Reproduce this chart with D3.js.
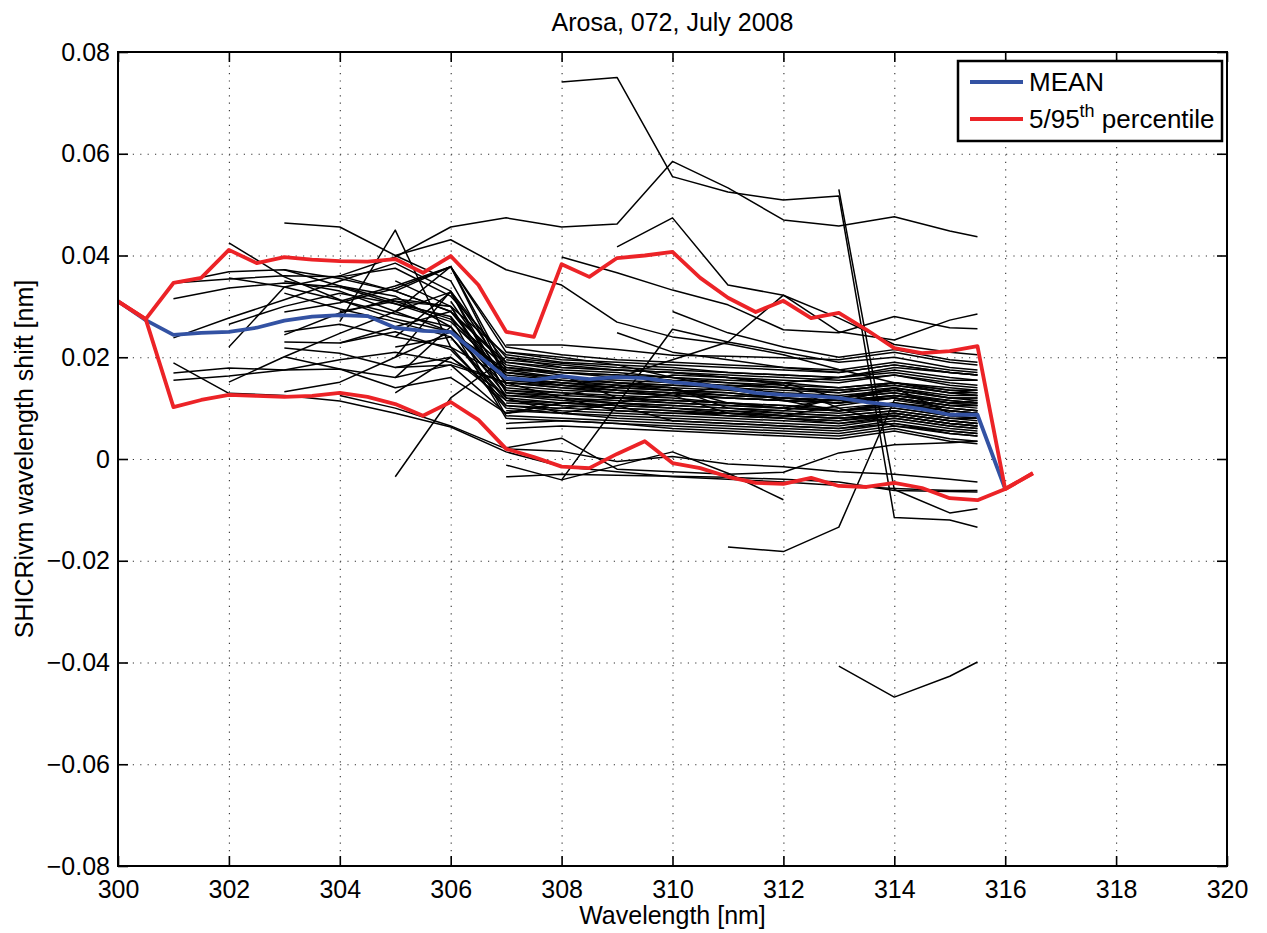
<!DOCTYPE html>
<html><head><meta charset="utf-8">
<script src="https://cdn.jsdelivr.net/npm/d3@7"></script>
<style>
body{margin:0;background:#fff}
svg text{font-family:"Liberation Sans",Arial,Helvetica,sans-serif;fill:#000}
</style>
</head><body>
<svg id="c" width="1267" height="933"></svg>
<script>
// ---------- data ----------
const xTickValues = [300,302,304,306,308,310,312,314,316,318,320];
const yTickValues = [-0.08,-0.06,-0.04,-0.02,0,0.02,0.04,0.06,0.08];
const titleText = "Arosa, 072, July 2008";
const xLabel = "Wavelength [nm]";
const yLabel = "SHICRivm wavelength shift [nm]";

// wavelengths of the statistics curves
const statWavelengths = [300,300.5,301,301.5,302,302.5,303,303.5,304,304.5,305,305.5,306,306.5,307,307.5,308,308.5,309,309.5,310,310.5,311,311.5,312,312.5,313,313.5,314,314.5,315,315.5,316,316.5];
const meanShift = [.0310,.0273,.0244,.0248,.0250,.0258,.0272,.0280,.0283,.0281,.0258,.0252,.0250,.0204,.0159,.0155,.0163,.0157,.0161,.0159,.0151,.0146,.0140,.0130,.0126,.0124,.0120,.0112,.0106,.0098,.0087,.0087,-.0059,null];
const p95Shift = [.0310,.0275,.0346,.0356,.0411,.0385,.0397,.0392,.0389,.0388,.0393,.0366,.0399,.0342,.0250,.0240,.0383,.0358,.0395,.0400,.0407,.0356,.0317,.0289,.0311,.0277,.0287,.0254,.0218,.0208,.0212,.0222,-.0059,-.0028];
const p5Shift  = [.0310,.0275,.0102,.0116,.0126,.0124,.0122,.0124,.0130,.0122,.0108,.0085,.0112,.0077,.0020,.0004,-.0015,-.0018,.0010,.0035,-.0008,-.0018,-.0035,-.0047,-.0049,-.0037,-.0053,-.0055,-.0047,-.0057,-.0077,-.0081,-.0059,-.0028];

// wavelengths of the individual scans
const scanWavelengths = [301,302,303,304,305,306,307,308,309,310,311,312,313,314,315,315.5];
const scanShifts = [
 [.0346,.0368,.0372,.0355,.0330,.0290,.0185,.0170,.0165,.0155,.0150,.0140,.0135,.0145,.0130,.0130],
 [.0346,.0354,.0360,.0358,.0375,.0320,.0200,.0188,.0180,.0175,.0170,.0165,.0160,.0170,.0155,.0155],
 [.0315,.0336,.0346,.0338,.0305,.0270,.0165,.0155,.0145,.0135,.0130,.0120,.0115,.0125,.0110,.0110],
 [.0238,.0277,.0313,.0350,.0385,.0330,.0190,.0175,.0170,.0160,.0155,.0150,.0140,.0150,.0135,.0135],
 [.0189,.0129,.0125,.0114,.0090,.0063,.0014,-.0015,-.0025,-.0035,-.0040,-.0045,-.0052,-.0058,-.0062,-.0062],
 [.0169,.0179,.0175,.0177,.0160,.0185,.0090,.0110,.0120,.0115,.0110,.0105,.0095,.0110,.0095,.0090],
 [.0155,.0163,.0175,.0195,.0210,.0190,.0150,.0120,.0095,.0090,.0085,.0080,.0075,.0090,.0075,.0070],
 [null,.0425,.0358,.0313,.0275,.0250,.0170,.0160,.0150,.0145,.0140,.0130,.0125,.0135,.0120,.0120],
 [null,.0265,.0300,.0326,.0305,.0280,.0150,.0140,.0130,.0125,.0120,.0115,.0110,.0120,.0105,.0105],
 [null,.0220,.0338,.0360,.0330,.0378,.0210,.0195,.0190,.0185,.0180,.0175,.0170,.0185,.0170,.0165],
 [null,.0151,.0201,.0247,.0290,.0328,.0130,.0120,.0110,.0105,.0100,.0095,.0120,.0140,.0090,.0085],
 [null,.0356,.0338,.0312,.0285,.0260,.0140,.0130,.0125,.0120,.0110,.0100,.0095,.0105,.0090,.0085],
 [null,null,.0464,.0456,.0400,.0350,.0160,.0145,.0135,.0130,.0120,.0115,.0110,.0125,.0110,.0105],
 [null,null,.0372,.0340,.0310,.0275,.0180,.0165,.0120,.0125,.0145,.0140,.0135,.0145,.0130,.0125],
 [null,null,.0326,.0295,.0270,.0240,.0120,.0110,.0105,.0100,.0095,.0090,.0085,.0095,.0080,.0075],
 [null,null,.0289,.0307,.0335,.0378,.0175,.0160,.0155,.0150,.0145,.0140,.0130,.0140,.0125,.0125],
 [null,null,.0250,.0265,.0240,.0220,.0100,.0090,.0085,.0080,.0075,.0070,.0065,.0080,.0065,.0060],
 [null,null,.0244,.0287,.0315,.0300,.0205,.0190,.0185,.0180,.0170,.0165,.0160,.0175,.0160,.0155],
 [null,null,.0230,.0228,.0260,.0290,.0155,.0145,.0140,.0165,.0160,.0150,.0120,.0130,.0115,.0110],
 [null,null,.0218,.0208,.0180,.0200,.0125,.0115,.0110,.0105,.0100,.0095,.0090,.0100,.0085,.0080],
 [null,null,.0201,.0177,.0140,.0160,.0090,.0110,.0105,.0075,.0070,.0065,.0060,.0075,.0060,.0055],
 [null,null,.0132,.0151,.0200,.0250,.0135,.0125,.0120,.0110,.0105,.0100,.0095,.0110,.0095,.0090],
 [null,null,null,.0270,.0450,.0220,.0160,.0150,.0140,.0135,.0125,.0120,.0115,.0120,.0100,.0095],
 [null,null,null,.0360,.0397,.0456,.0474,.0456,.0462,.0585,.0533,.0470,.0458,.0476,.0448,.0437],
 [null,null,null,null,-.0035,.0120,.0200,.0180,.0175,.0170,.0160,.0155,.0150,.0165,.0150,.0145],
 [null,null,null,null,.0290,.0378,.0220,.0205,.0195,.0190,.0185,.0180,.0175,.0190,.0175,.0170],
 [null,null,null,null,.0240,.0328,.0145,.0135,.0130,.0125,.0090,.0085,.0105,.0120,.0105,.0100],
 [null,null,null,null,.0130,.0200,.0115,.0105,.0100,.0095,.0090,.0085,.0080,.0090,.0075,.0070],
 [null,null,null,null,.0160,.0260,.0080,.0075,.0070,.0065,.0060,.0055,.0050,.0065,.0050,.0045],
 [null,null,null,null,.0400,.0431,.0372,.0342,.0269,.0240,.0226,.0205,.0176,.0150,.0130,.0125],
 [null,null,null,null,null,null,null,.0741,.0750,.0555,.0525,.0509,.0517,-.0115,-.0120,-.0134],
 [null,null,null,null,null,null,null,.0397,.0366,.0332,.0303,.0254,.0248,.0280,.0258,.0256],
 [null,null,null,null,null,null,null,null,.0417,.0474,.0342,.0322,.0250,.0234,.0273,.0285],
 [null,null,null,null,null,null,null,null,.0248,.0210,.0195,.0180,.0170,.0185,.0170,.0165],
 [null,null,null,null,null,null,null,-.0041,.0107,.0255,.0230,.0210,.0190,.0200,.0180,.0175],
 [null,null,null,null,null,null,-.0012,-.0041,-.0013,.0014,-.0028,-.0080,null,null,null,null],
 [null,null,null,null,null,null,.0022,.0041,-.0020,-.0025,-.0030,-.0026,.0012,.0028,.0032,.0035],
 [null,null,null,null,null,null,null,null,null,null,-.0173,-.0182,-.0134,.0116,.0100,.0095],
 [null,null,null,null,null,null,null,null,null,null,null,null,-.0407,-.0468,-.0427,-.0399],
 [null,null,null,null,null,null,null,null,null,null,null,null,.0530,-.0060,-.0106,-.0098],
 [null,null,null,null,null,null,.0224,.0224,.0215,.0204,.0202,.0199,.0195,.0210,.0190,.0185],
 [null,null,null,null,null,null,null,null,null,.0290,.0248,.0220,.0200,.0215,.0195,.0190],
 [null,null,null,null,null,null,.0180,.0170,.0160,.0195,.0230,.0322,.0277,.0225,.0210,.0205],
 [null,null,null,null,null,null,.0195,.0185,.0175,.0170,.0160,.0145,.0100,.0065,.0055,.0050],
 [null,null,null,null,null,null,.0095,.0090,.0080,.0075,.0070,.0065,.0060,.0070,.0050,.0045],
 [null,null,null,null,null,null,.0130,.0125,.0145,.0140,.0100,.0090,.0085,.0095,.0080,.0080],
 [null,null,null,null,null,null,.0170,.0155,.0150,.0140,.0110,.0100,.0120,.0130,.0110,.0115],
 [null,null,null,null,null,null,.0070,.0075,.0070,.0060,.0055,.0050,.0045,.0060,.0040,.0035],
 [null,null,null,null,.0180,.0185,.0150,.0140,.0135,.0125,.0120,.0115,.0110,.0120,.0105,.0105],
 [null,null,null,null,.0220,.0240,.0105,.0095,.0090,.0085,.0080,.0075,.0070,.0085,.0070,.0065],
 [null,null,null,.0125,.0100,.0065,.0020,.0015,-.0005,.0005,-.0010,-.0015,-.0025,-.0030,-.0040,-.0045],
 [null,null,null,null,null,null,-.0035,-.0030,-.0032,-.0034,-.0036,-.0040,-.0045,-.0062,-.0064,-.0065],
 [null,null,null,.0310,.0340,.0378,.0160,.0150,.0145,.0140,.0135,.0125,.0120,.0135,.0120,.0115],
 [null,null,null,.0290,.0310,.0300,.0120,.0090,.0110,.0100,.0095,.0085,.0080,.0090,.0075,.0070],
 [null,null,.0350,.0330,.0290,.0250,.0175,.0170,.0165,.0160,.0150,.0145,.0140,.0150,.0140,.0135],
 [null,null,null,null,.0350,.0300,.0135,.0130,.0120,.0115,.0110,.0105,.0100,.0110,.0100,.0095],
 [null,null,null,.0228,.0250,.0215,.0105,.0100,.0095,.0090,.0090,.0085,.0080,.0085,.0070,.0065],
 [null,null,null,null,.0330,.0290,.0190,.0180,.0175,.0170,.0165,.0160,.0155,.0165,.0145,.0140],
 [null,null,null,.0340,.0320,.0260,.0125,.0120,.0115,.0110,.0105,.0100,.0095,.0105,.0095,.0090],
 [null,null,null,null,null,.0280,.0085,.0080,.0075,.0070,.0065,.0060,.0055,.0070,.0055,.0050],
 [null,null,null,null,null,.0310,.0155,.0150,.0140,.0135,.0130,.0120,.0115,.0125,.0115,.0110],
 [null,null,null,null,null,.0240,.0115,.0110,.0105,.0100,.0090,.0080,.0075,.0085,.0070,.0065],
 [null,null,null,null,null,null,.0090,.0100,.0110,.0130,.0140,.0150,.0160,.0180,.0170,.0165],
 [null,null,null,null,null,null,.0210,.0200,.0185,.0160,.0140,.0115,.0095,.0100,.0085,.0080],
 [null,null,null,null,.0200,.0330,.0170,.0160,.0150,.0145,.0140,.0135,.0130,.0150,.0135,.0130],
 [null,null,null,null,null,null,.0060,.0065,.0060,.0055,.0050,.0045,.0040,.0055,.0035,.0030],
 [null,null,null,null,null,null,.0150,.0145,.0135,.0130,.0125,.0120,.0110,.0140,.0120,.0120],
 [null,null,null,null,null,null,.0110,.0105,.0100,.0095,.0085,.0080,.0070,.0080,.0065,.0060]
];
const legendLabels = ["MEAN","5/95"];

// ---------- drawing ----------
const svg = d3.select("#c");
const M = {l:118, r:1227, t:52, b:866};
const x = d3.scaleLinear().domain([300,320]).range([M.l,M.r]);
const y = d3.scaleLinear().domain([-0.08,0.08]).range([M.b,M.t]);
const FS = 25;
const fmtY = v => v === 0 ? "0" : (v < 0 ? "\u2212" : "") + Math.abs(v).toFixed(2);

// grid
const gridStyle = g => g.selectAll("line").attr("stroke","#333").attr("stroke-width",1.1).attr("stroke-dasharray","1.2,6.2");
svg.append("g").attr("transform",`translate(0,${M.b})`)
  .call(d3.axisBottom(x).tickValues(xTickValues.slice(1,-1)).tickSize(-(M.b-M.t)).tickFormat(""))
  .call(g=>g.select(".domain").remove()).call(gridStyle);
svg.append("g").attr("transform",`translate(${M.l},0)`)
  .call(d3.axisLeft(y).tickValues(yTickValues.slice(1,-1)).tickSize(-(M.r-M.l)).tickFormat(""))
  .call(g=>g.select(".domain").remove()).call(gridStyle);

// scans
const line = d3.line().defined(d => d[1] != null).x(d => x(d[0])).y(d => y(d[1]));
svg.append("g").selectAll("path").data(scanShifts).join("path")
  .attr("d", s => line(s.map((v,i)=>[scanWavelengths[i], v])))
  .attr("fill","none").attr("stroke","#000").attr("stroke-width",1.5).attr("stroke-linejoin","round");

const BLUE = "#3352a3", RED = "#ec2327";
svg.append("path").attr("d", line(meanShift.map((v,i)=>[statWavelengths[i], v])))
  .attr("fill","none").attr("stroke",BLUE).attr("stroke-width",3.8).attr("stroke-linejoin","round");
[p95Shift,p5Shift].forEach(arr=>{
  svg.append("path").attr("d", line(arr.map((v,i)=>[statWavelengths[i], v])))
    .attr("fill","none").attr("stroke",RED).attr("stroke-width",3.8).attr("stroke-linejoin","round");
});

// axes with inside ticks on all sides
const TK = 10;
const axStyle = g => { g.select(".domain").remove(); g.selectAll("line").attr("stroke","#000").attr("stroke-width",1.6); g.selectAll("text").attr("font-size",FS).attr("font-family",null); };
svg.append("g").attr("transform",`translate(0,${M.b})`)
  .call(d3.axisBottom(x).tickValues(xTickValues).tickSizeInner(-TK).tickSizeOuter(0).tickPadding(14).tickFormat(d3.format("d")))
  .call(axStyle);
svg.append("g").attr("transform",`translate(0,${M.t})`)
  .call(d3.axisTop(x).tickValues(xTickValues).tickSizeInner(-TK).tickSizeOuter(0).tickFormat(""))
  .call(axStyle);
svg.append("g").attr("transform",`translate(${M.l},0)`)
  .call(d3.axisLeft(y).tickValues(yTickValues).tickSizeInner(-TK).tickSizeOuter(0).tickPadding(8).tickFormat(fmtY))
  .call(axStyle);
svg.append("g").attr("transform",`translate(${M.r},0)`)
  .call(d3.axisRight(y).tickValues(yTickValues).tickSizeInner(-TK).tickSizeOuter(0).tickFormat(""))
  .call(axStyle);
svg.append("rect").attr("x",M.l).attr("y",M.t).attr("width",M.r-M.l).attr("height",M.b-M.t)
  .attr("fill","none").attr("stroke","#000").attr("stroke-width",2);

// titles
svg.append("text").attr("x",(M.l+M.r)/2).attr("y",31).attr("text-anchor","middle").attr("font-size",FS).text(titleText);
svg.append("text").attr("x",(M.l+M.r)/2).attr("y",924).attr("text-anchor","middle").attr("font-size",FS).text(xLabel);
svg.append("text").attr("transform",`translate(33,${(M.t+M.b)/2}) rotate(-90)`).attr("text-anchor","middle").attr("font-size",FS).text(yLabel);

// legend
const lg = svg.append("g");
const LX = 958, LY = 61, LW = 264, LH = 80;
lg.append("rect").attr("x",LX).attr("y",LY).attr("width",LW).attr("height",LH).attr("fill","#fff").attr("stroke","#000").attr("stroke-width",2.5);
const rows = [{c:BLUE, yy:LY+21},{c:RED, yy:LY+58}];
rows.forEach(r=>lg.append("line").attr("x1",LX+12).attr("x2",LX+65).attr("y1",r.yy).attr("y2",r.yy).attr("stroke",r.c).attr("stroke-width",3.8));
lg.append("text").attr("x",LX+71).attr("y",rows[0].yy+9).attr("font-size",26).text(legendLabels[0]);
const t2 = lg.append("text").attr("x",LX+71).attr("y",rows[1].yy+9).attr("font-size",26);
t2.append("tspan").text(legendLabels[1]);
t2.append("tspan").attr("font-size",18).attr("dy",-11).text("th");
t2.append("tspan").attr("dy",11).text(" percentile");
</script>
</body></html>
